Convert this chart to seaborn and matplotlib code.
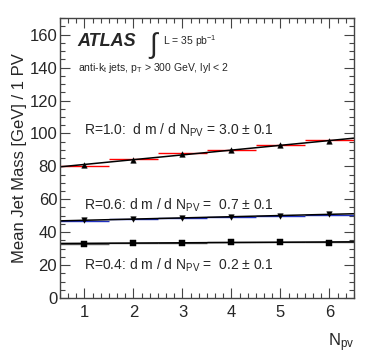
import matplotlib
matplotlib.use('Agg')
import matplotlib.pyplot as plt
from matplotlib.ticker import MultipleLocator
import numpy as np
import pandas as pd
import seaborn as sns

# data
npv = [1, 2, 3, 4, 5, 6]
mass_r10 = [80.7, 84.1, 87.7, 89.8, 92.8, 95.4]
mass_r06 = [47.1, 48.1, 48.7, 49.5, 49.9, 50.9]
mass_r04 = [33.0, 33.4, 33.6, 34.0, 34.2, 33.6]
# reference histograms drawn as flat bin segments
hist_r10 = [80.3, 84.6, 88.2, 90.0, 92.9, 95.9]
hist_r06 = [47.0, 48.0, 48.8, 49.4, 50.0, 50.7]
hist_r04 = [33.1, 33.5, 33.7, 34.0, 34.1, 33.9]
labels = ['R=1.0:  d m / d N$_{\\mathregular{PV}}$ = 3.0 ± 0.1',
          'R=0.6: d m / d N$_{\\mathregular{PV}}$ =  0.7 ± 0.1',
          'R=0.4: d m / d N$_{\\mathregular{PV}}$ =  0.2 ± 0.1']

sns.set_style('ticks')
plt.rcParams['font.family'] = ['Liberation Sans', 'DejaVu Sans']
plt.rcParams['mathtext.fontset'] = 'custom'
plt.rcParams['mathtext.rm'] = 'Liberation Sans'
plt.rcParams['mathtext.it'] = 'Liberation Sans:italic'

fig = plt.figure(figsize=(3.74, 3.55), dpi=100)
ax = fig.add_axes([0.1604, 0.1606, 0.786, 0.788])
ax.set_xlim(0.5, 6.5)
ax.set_ylim(0, 170)

df = pd.DataFrame({'npv': npv, 'r10': mass_r10, 'r06': mass_r06, 'r04': mass_r04})
centers = np.array(npv)

ax.hlines(hist_r10, centers - 0.5, centers + 0.5, color='red', lw=1)
ax.hlines(hist_r06, centers - 0.5, centers + 0.5, color='#2030c0', lw=1)
ax.hlines(hist_r04, centers - 0.5, centers + 0.5, color='#555555', lw=1)

for col, mk in [('r10', '^'), ('r06', 'v'), ('r04', 's')]:
    sns.regplot(data=df, x='npv', y=col, scatter=False, ci=None, truncate=False,
                color='black', line_kws={'lw': 1.1}, ax=ax)
    sns.scatterplot(data=df, x='npv', y=col, marker=mk, s=16, color='black',
                    edgecolor='black', ax=ax, zorder=5)

ax.set_xlim(0.5, 6.5)
ax.set_ylim(0, 170)
ax.xaxis.set_major_locator(MultipleLocator(1))
ax.xaxis.set_minor_locator(MultipleLocator(1 / 6))
ax.yaxis.set_major_locator(MultipleLocator(20))
ax.yaxis.set_minor_locator(MultipleLocator(5))
ax.tick_params(which='both', direction='in', top=True, right=True, labelsize=12,
               color='#444444', width=0.8)
ax.tick_params(which='major', length=7)
ax.tick_params(which='minor', length=3.5)
ax.tick_params(axis='x', pad=5)
ax.tick_params(axis='y', pad=2)
for s in ax.spines.values():
    s.set_linewidth(1.0)
    s.set_color('#444444')

ax.set_xlabel('N$_{\\mathregular{pv}}$', fontsize=12, loc='right', labelpad=8)
ax.set_ylabel('Mean Jet Mass [GeV] / 1 PV', fontsize=12, labelpad=2)

ax.text(0.06, 0.9, 'ATLAS', transform=ax.transAxes, fontsize=13,
        fontweight='bold', fontstyle='italic')
ax.text(0.3, 0.875, '$\\int$', transform=ax.transAxes, fontsize=20)
ax.text(0.35, 0.905, 'L = 35 pb$^{\\mathregular{-1}}$', transform=ax.transAxes, fontsize=7.5)
ax.text(0.06, 0.81, 'anti-k$_{\\mathregular{t}}$ jets, p$_{\\mathregular{T}}$ > 300 GeV, lyl < 2',
        transform=ax.transAxes, fontsize=7.5)
ax.text(0.08, 0.585, labels[0], transform=ax.transAxes, fontsize=10)
ax.text(0.08, 0.315, labels[1], transform=ax.transAxes, fontsize=10)
ax.text(0.08, 0.10, labels[2], transform=ax.transAxes, fontsize=10)

fig.savefig('out.png', dpi=100)
